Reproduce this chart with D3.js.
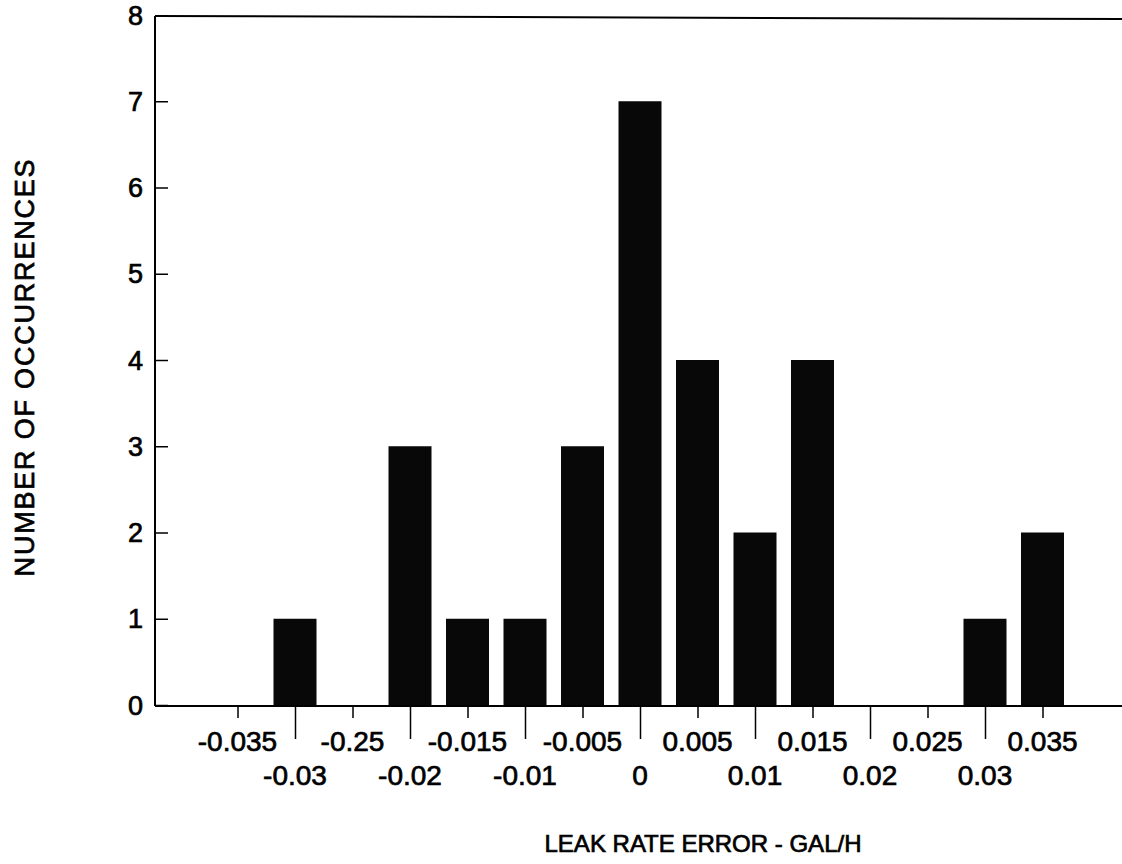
<!DOCTYPE html>
<html><head><meta charset="utf-8">
<script src="https://cdn.jsdelivr.net/npm/d3@7"></script>
<style>
html,body{margin:0;padding:0;background:#fff;}
text{font-family:"Liberation Sans",Arial,Helvetica,sans-serif;fill:#000;stroke:#000;stroke-width:0.7px;}
</style></head>
<body>
<svg id="chart" width="1122" height="864"></svg>
<script>
// Data
const binCenters = [-0.035,-0.03,-0.025,-0.02,-0.015,-0.01,-0.005,0,0.005,0.01,0.015,0.02,0.025,0.03,0.035];
const counts     = [0,1,0,3,1,1,3,7,4,2,4,0,0,1,2];
const tickValues = [-0.035,-0.03,-0.025,-0.02,-0.015,-0.01,-0.005,0,0.005,0.01,0.015,0.02,0.025,0.03,0.035];
const tickLabels = ["-0.035","-0.03","-0.25","-0.02","-0.015","-0.01","-0.005","0","0.005","0.01","0.015","0.02","0.025","0.03","0.035"];
const yTicks = [0,1,2,3,4,5,6,7,8];
const xTitle = "LEAK RATE ERROR - GAL/H";
const yTitle = "NUMBER OF OCCURRENCES";

const svg = d3.select("#chart");
const left = 155, right = 1122;
const x = d3.scaleLinear().domain([-0.035,0.035]).range([237.5,1042.5]);
const y = d3.scaleLinear().domain([0,8]).range([705,15]);
const barW = 43;

// bars
svg.append("g").selectAll("rect").data(binCenters.map((c,i)=>({c,v:counts[i]})).filter(d=>d.v>0))
  .enter().append("rect")
  .attr("x",d=>x(d.c)-barW/2).attr("width",barW)
  .attr("y",d=>y(d.v)).attr("height",d=>y(0)-y(d.v))
  .attr("fill","#080808");

// frame lines
svg.append("line").attr("x1",left).attr("x2",right).attr("y1",y(0)+1).attr("y2",y(0)+1)
  .attr("stroke","#000").attr("stroke-width",2);
svg.append("line").attr("x1",left).attr("x2",right).attr("y1",y(8)+1).attr("y2",y(8)+4)
  .attr("stroke","#000").attr("stroke-width",2);
svg.append("line").attr("x1",left).attr("x2",left).attr("y1",y(8)+1).attr("y2",y(0)+1)
  .attr("stroke","#000").attr("stroke-width",2);

// y axis ticks (inward) + labels
const yAxis = d3.axisRight(y).tickValues(yTicks.slice(0,8)).tickSize(13).tickFormat("");
const yg = svg.append("g").attr("transform",`translate(${left},0)`).call(yAxis);
yg.select(".domain").remove();
yg.selectAll(".tick line").attr("stroke","#000").attr("stroke-width",1.5);
svg.append("g").selectAll("text").data(yTicks).enter().append("text")
  .attr("x",143).attr("y",d=>y(d)).attr("dy","0.36em")
  .attr("text-anchor","end").attr("font-size",27).text(d=>d);

// x axis ticks: alternating short/long
const xg = svg.append("g").attr("transform",`translate(0,${y(0)+1})`)
  .call(d3.axisBottom(x).tickValues(tickValues).tickSizeOuter(0).tickFormat(""));
xg.select(".domain").remove();
xg.selectAll(".tick line").attr("stroke","#000").attr("stroke-width",1.5)
  .attr("y2",(d,i)=> i%2===0 ? 12 : 33);
svg.append("g").selectAll("text").data(tickValues).enter().append("text")
  .attr("x",d=>x(d))
  .attr("y",(d,i)=> i%2===0 ? 751 : 785)
  .attr("text-anchor","middle").attr("font-size",28)
  .text((d,i)=>tickLabels[i]);

// titles
svg.append("text").attr("x",703).attr("y",852).attr("text-anchor","middle")
  .attr("font-size",24).text(xTitle);
svg.append("text").attr("transform","translate(34,367) rotate(-90)")
  .attr("text-anchor","middle").attr("font-size",27).attr("letter-spacing",1.8)
  .text(yTitle);
</script>
</body></html>
